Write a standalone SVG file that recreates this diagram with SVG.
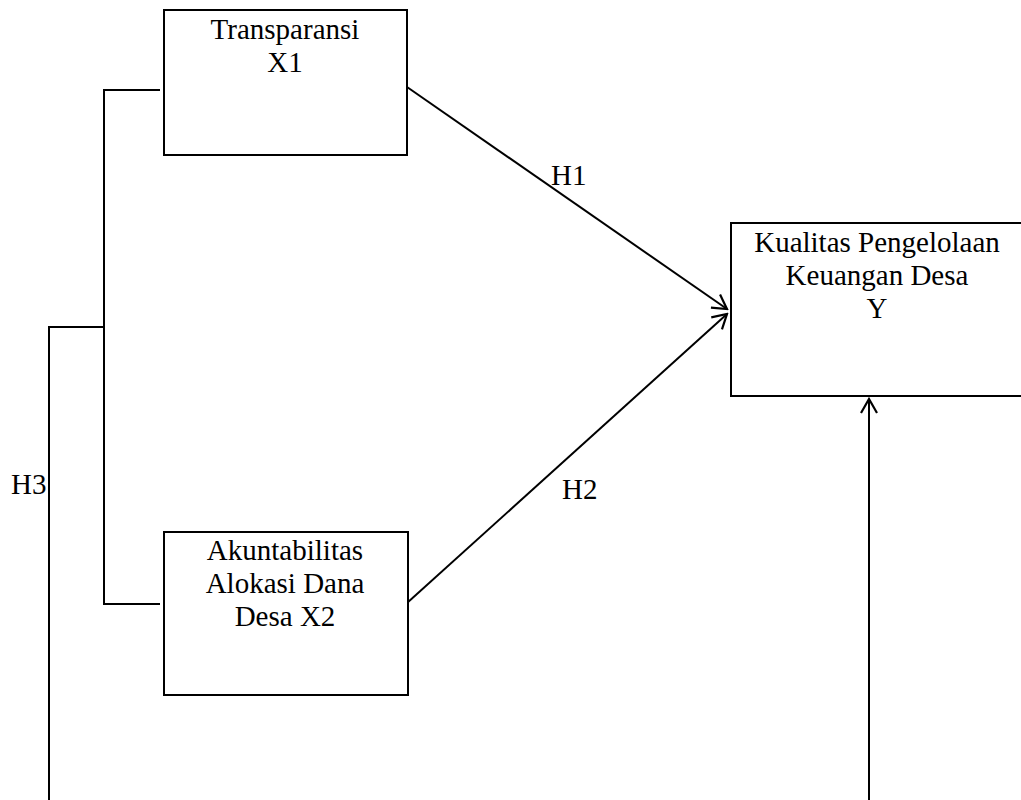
<svg xmlns="http://www.w3.org/2000/svg" width="1021" height="800" viewBox="0 0 1021 800">
<style>
.box{fill:#fff;stroke:#000;stroke-width:2}
.ln{fill:none;stroke:#000;stroke-width:2}
text{font-family:"Liberation Serif","Times New Roman",serif;font-size:29px;fill:#000}
.c{text-anchor:middle}
</style>
<defs>
<marker id="ah" viewBox="0 0 20 20" refX="18" refY="10" markerWidth="20" markerHeight="20" markerUnits="userSpaceOnUse" orient="auto">
<path d="M4,2 L18,10 L4,18" fill="none" stroke="#000" stroke-width="2.2"/>
</marker>
</defs>
<rect width="1021" height="800" fill="#fff"/>
<g id="connectors">
<polyline class="ln" points="160,90 104,90 104,604 160,604"/>
<polyline class="ln" points="104,327 49,327 49,800"/>
<line class="ln" x1="407" y1="87" x2="727" y2="309" marker-end="url(#ah)"/>
<line class="ln" x1="407" y1="603" x2="727" y2="314" marker-end="url(#ah)"/>
<line class="ln" x1="869" y1="800" x2="869" y2="399" marker-end="url(#ah)"/>
<text x="551" y="185">H1</text>
<text x="562" y="499">H2</text>
<text x="11" y="494">H3</text>
</g>
<g id="x1">
<rect class="box" x="164" y="10" width="243" height="145"/>
<text class="c" x="285" y="39">Transparansi</text>
<text class="c" x="285" y="72">X1</text>
</g>
<g id="x2">
<rect class="box" x="164" y="532" width="244" height="163"/>
<text class="c" x="285" y="560">Akuntabilitas</text>
<text class="c" x="285" y="593">Alokasi Dana</text>
<text class="c" x="285" y="626">Desa X2</text>
</g>
<g id="y">
<rect class="box" x="731" y="223" width="300" height="173"/>
<text class="c" x="877" y="252">Kualitas Pengelolaan</text>
<text class="c" x="877" y="285">Keuangan Desa</text>
<text class="c" x="877" y="318">Y</text>
</g>
</svg>
